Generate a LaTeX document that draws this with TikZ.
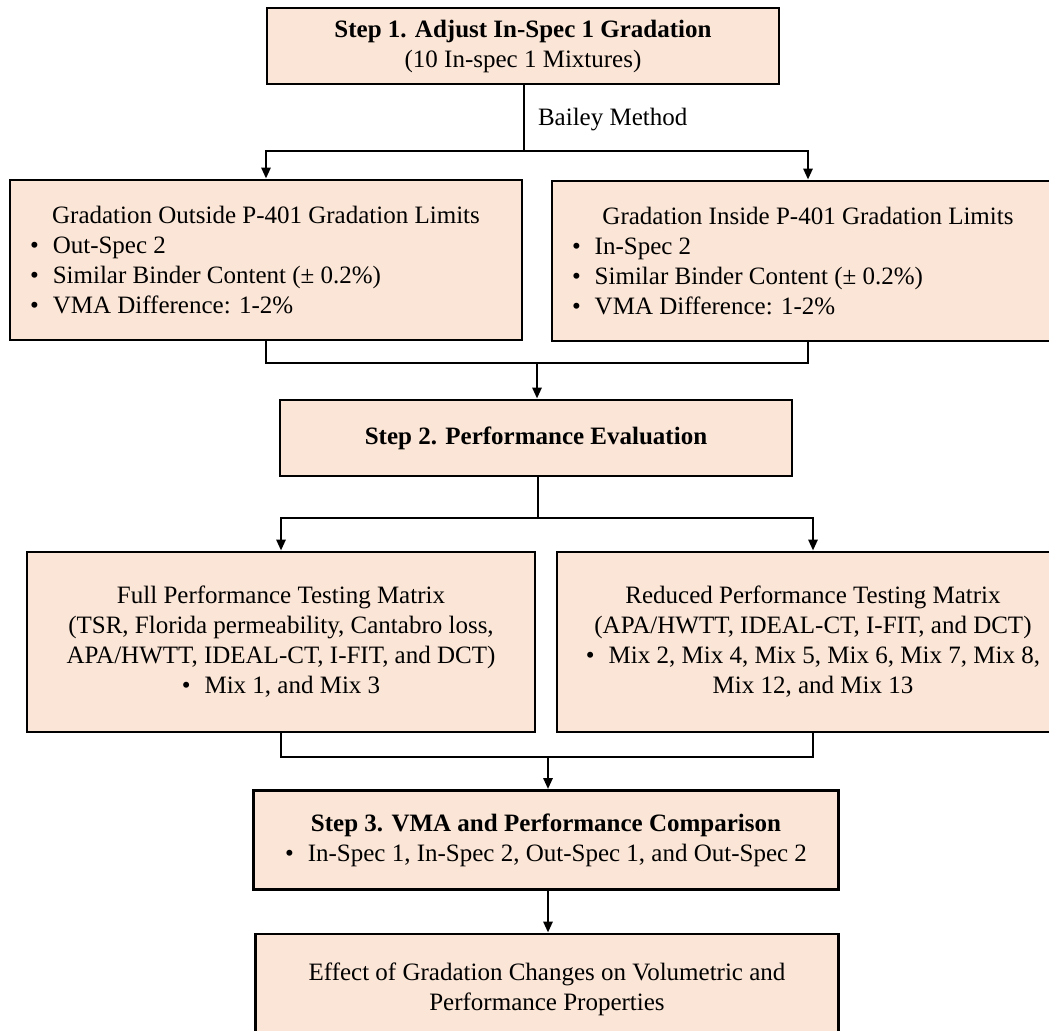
\documentclass[tikz,border=0pt]{standalone}
\usepackage{fontspec}
\setmainfont{Liberation Serif}
\usetikzlibrary{arrows.meta}

\definecolor{peach}{HTML}{FBE5D6}
\newcommand{\bline}[1]{\makebox[236pt][l]{\textbullet\hspace{7pt}#1}}

\begin{document}
\begin{tikzpicture}[x=0.5pt,y=-0.5pt,
  every node/.style={font=\fontsize{12.5}{15}\selectfont},
  flowbox/.style={draw,line width=1.4pt,fill=peach,align=center,inner sep=0pt},
  link/.style={line width=1.3pt},
  arrow/.style={link,-{Triangle[width=4.5pt,length=5.5pt]}}]
\useasboundingbox (0,0) rectangle (1049,1030);

% boxes
\node[flowbox,minimum width=256pt,minimum height=38pt] (step1) at (523,46)
  {\textbf{Step 1. Adjust In-Spec 1 Gradation}\\(10 In-spec 1 Mixtures)};
\node[flowbox,minimum width=256pt,minimum height=80pt] (outside) at (266,260)
  {Gradation Outside P-401 Gradation Limits\\
   \bline{Out-Spec 2}\\
   \bline{Similar Binder Content (± 0.2\%)}\\
   \bline{VMA Difference: 1-2\%}};
\node[flowbox,minimum width=256pt,minimum height=80pt] (inside) at (808,261)
  {Gradation Inside P-401 Gradation Limits\\
   \bline{In-Spec 2}\\
   \bline{Similar Binder Content (± 0.2\%)}\\
   \bline{VMA Difference: 1-2\%}};
\node[flowbox,minimum width=256pt,minimum height=38pt] (step2) at (536,438)
  {\textbf{Step 2. Performance Evaluation}};
\node[flowbox,minimum width=254pt,minimum height=90pt] (full) at (281,642)
  {Full Performance Testing Matrix\\
   (TSR, Florida permeability, Cantabro loss,\\
   APA/HWTT, IDEAL-CT, I-FIT, and DCT)\\
   \textbullet\hspace{7pt}Mix 1, and Mix 3};
\node[flowbox,minimum width=256pt,minimum height=90pt] (reduced) at (813,642)
  {Reduced Performance Testing Matrix\\
   (APA/HWTT, IDEAL-CT, I-FIT, and DCT)\\
   \textbullet\hspace{7pt}Mix 2, Mix 4, Mix 5, Mix 6, Mix 7, Mix 8,\\
   Mix 12, and Mix 13};
\node[flowbox,minimum width=292.5pt,minimum height=49.5pt] (step3) at (546,840)
  {\textbf{Step 3. VMA and Performance Comparison}\\
   \textbullet\hspace{7pt}In-Spec 1, In-Spec 2, Out-Spec 1, and Out-Spec 2};
\node[flowbox,minimum width=291.5pt,minimum height=55pt] (effect) at (547,989)
  {Effect of Gradation Changes on Volumetric and\\Performance Properties};

% connectors
\coordinate (split1) at (524,151);
\coordinate (join1) at (537,363);
\coordinate (split2) at (538,518);
\coordinate (join2) at (548,757);
\draw[link] (step1.south -| split1) -- (split1);
\node[anchor=west] (bailey) at (531,120) {Bailey Method};
\draw[arrow] (split1) -| (outside);
\draw[arrow] (split1) -| (inside);
\draw[link] (outside.south) |- (join1) -| (inside.south);
\draw[arrow] (join1) -- (join1 |- step2.north);
\draw[link] (step2.south -| split2) -- (split2);
\draw[arrow] (split2) -| (full);
\draw[arrow] (split2) -| (reduced);
\draw[link] (full.south) |- (join2) -| (reduced.south);
\draw[arrow] (join2) -- (join2 |- step3.north);
\draw[arrow] (step3.south -| join2) -- (join2 |- effect.north);
\end{tikzpicture}
\end{document}
